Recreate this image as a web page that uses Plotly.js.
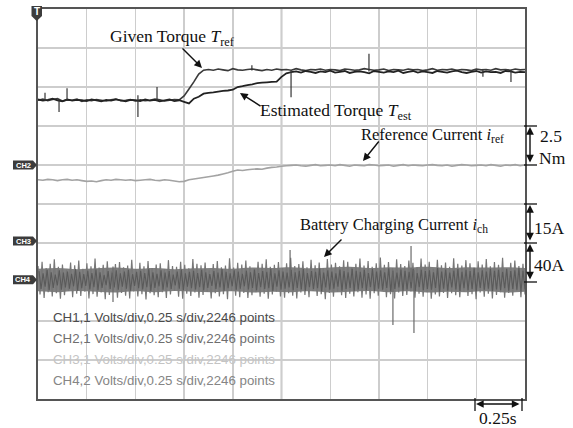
<!DOCTYPE html>
<html>
<head>
<meta charset="utf-8">
<script src="https://cdn.plot.ly/plotly-3.0.1.min.js"></script>
<style>html,body{margin:0;padding:0;background:#fff;}#chart{width:573px;height:428px;}</style>
</head>
<body>
<div id="chart"></div>
<script>
// ---------- DATA (screen divisions, 0.25 s/div, 10 x 10 div) ----------
const sampleStep = 0.025; // seconds between typed samples of CH1/CH2

// CH1 : given torque T_ref (div)
const givenTorque = [
7.66,7.69,7.65,7.68,7.70,7.64,7.67,7.66,7.69,7.63,
7.67,7.65,7.68,7.66,7.64,7.67,7.69,7.65,7.66,7.68,
7.64,7.67,7.65,7.66,7.69,7.67,7.64,7.66,7.68,7.67,
7.77,7.95,8.13,8.33,8.43,
8.45,8.43,8.46,8.44,8.42,8.47,8.44,8.43,8.45,8.46,
8.44,8.42,8.45,8.43,8.46,8.44,8.45,8.43,8.47,8.44,
8.42,8.45,8.44,8.46,8.43,8.45,8.44,8.42,8.46,8.45,
8.43,8.44,8.47,8.45,8.43,8.44,8.46,8.42,8.45,8.44,
8.43,8.46,8.44,8.45,8.42,8.44,8.47,8.43,8.45,8.44,
8.46,8.43,8.45,8.44,8.42,8.46,8.44,8.45,8.43,8.47,
8.44,8.45,8.43,8.46,8.44,8.45];

// CH1 : estimated torque T_est (div)
const estimatedTorque = [
7.68,7.65,7.67,7.70,7.66,7.63,7.68,7.65,7.67,7.66,
7.64,7.68,7.66,7.63,7.67,7.65,7.68,7.66,7.63,7.67,
7.66,7.64,7.68,7.65,7.67,7.63,7.66,7.68,7.64,7.66,
7.62,7.58,7.70,7.75,7.83,7.85,7.86,7.88,7.90,7.91,7.93,8.00,8.02,8.05,8.07,8.10,8.11,8.12,8.13,8.14,8.26,8.35,8.38,
8.40,8.37,8.41,8.39,8.36,8.40,8.38,8.42,8.37,8.39,
8.41,8.36,8.39,8.40,8.38,8.35,8.41,8.39,8.37,8.40,
8.38,8.42,8.36,8.39,8.41,8.37,8.40,8.38,8.36,8.41,
8.39,8.37,8.40,8.42,8.38,8.36,8.39,8.41,8.37,8.40,
8.38,8.39,8.36,8.41,8.40,8.37,8.39,8.38];

// torque glitches: time (s), low, high (div)
const torqueSpikeTime = [0.036,0.108,0.149,0.513,0.611,1.098,1.299,1.699,2.284,2.428];
const torqueSpikeLow  = [7.64,7.36,7.66,7.23,7.65,8.42,7.74,8.40,8.26,8.13];
const torqueSpikeHigh = [7.85,7.68,7.97,7.79,8.00,8.56,8.42,8.85,8.44,8.44];

// CH2 : reference current i_ref (div)
const referenceCurrent = [
5.62,5.61,5.63,5.62,5.60,5.62,5.63,5.61,5.62,5.60,
5.58,5.59,5.57,5.60,5.62,5.61,5.63,5.62,5.61,5.62,
5.60,5.61,5.62,5.63,5.61,5.60,5.62,5.61,5.59,5.57,
5.58,5.62,5.64,5.66,5.68,5.70,5.72,5.74,5.77,5.80,5.84,5.87,5.86,5.88,5.89,5.90,5.89,5.92,5.94,5.95,5.97,
5.98,5.99,6.00,5.98,5.97,5.99,6.01,5.98,5.99,6.00,
5.98,6.01,5.99,5.97,6.00,5.99,5.98,6.01,6.00,5.98,
5.99,6.00,5.97,5.99,6.01,5.98,6.00,5.99,5.98,6.00,
6.01,5.99,5.98,6.00,5.97,5.99,6.01,6.00,5.98,5.99,
6.00,5.98,6.01,5.99,5.97,6.00,5.99,6.01,5.98,6.00];

// CH4 : battery charging current i_ch
// dense core of the ripple band (upper / lower edge, every 0.1 s)
const chargingCoreUpper = [3.34,3.36,3.33,3.35,3.37,3.34,3.36,3.33,3.35,3.36,3.34,3.37,3.36,3.38,3.35,3.37,3.39,3.36,3.38,3.37,3.39,3.36,3.38,3.37,3.38,3.36];
const chargingCoreLower = [2.76,2.74,2.77,2.75,2.73,2.76,2.74,2.77,2.75,2.74,2.76,2.73,2.75,2.74,2.76,2.73,2.75,2.77,2.74,2.76,2.73,2.75,2.74,2.76,2.73,2.75];
// ripple peaks and troughs (div)
const chargingPeaks = [
3.41,3.52,3.36,3.47,3.58,3.39,3.45,3.31,3.50,3.43,
3.55,3.34,3.48,3.40,3.60,3.37,3.44,3.53,3.29,3.46,
3.51,3.38,3.42,3.57,3.33,3.49,3.40,3.54,3.36,3.45,
3.48,3.32,3.56,3.41,3.39,3.52,3.44,3.35,3.59,3.47,
3.43,3.50,3.30,3.46,3.54,3.38,3.42,3.61,3.37,3.49,
3.45,3.55,3.40,3.34,3.52,3.47,3.58,3.39,3.44,3.51,
3.36,3.48,3.62,3.41,3.46,3.53,3.38,3.57,3.43,3.50,
3.35,3.59,3.45,3.49,3.40,3.56,3.52,3.37,3.47,3.60,
3.42,3.54,3.39,3.48,3.63,3.44,3.51,3.36,3.58,3.46,
3.41,3.55,3.49,3.38,3.60,3.45,3.52,3.34,3.57,3.43,
3.50,3.39,3.61,3.47,3.42,3.56,3.48,3.37,3.53,3.45,
3.59,3.40,3.51,3.44,3.62,3.36,3.49,3.55,3.41,3.47];
const chargingTroughs = [
2.68,2.59,2.74,2.63,2.71,2.57,2.66,2.78,2.61,2.70,
2.64,2.75,2.58,2.69,2.62,2.73,2.56,2.67,2.79,2.60,
2.72,2.65,2.58,2.76,2.63,2.69,2.55,2.71,2.66,2.61,
2.74,2.59,2.68,2.77,2.62,2.57,2.70,2.64,2.73,2.60,
2.67,2.75,2.58,2.71,2.63,2.69,2.56,2.78,2.65,2.61,
2.72,2.59,2.66,2.74,2.62,2.70,2.57,2.68,2.76,2.63,
2.60,2.71,2.65,2.58,2.73,2.67,2.61,2.77,2.64,2.69,
2.56,2.72,2.62,2.75,2.66,2.59,2.70,2.63,2.74,2.60,
2.68,2.57,2.71,2.65,2.78,2.61,2.69,2.58,2.73,2.64,
2.67,2.76,2.60,2.70,2.62,2.74,2.57,2.68,2.63,2.72,
2.59,2.71,2.66,2.61,2.75,2.64,2.69,2.56,2.73,2.62,
2.70,2.58,2.67,2.74,2.60,2.72,2.65,2.77,2.61,2.68];
const chargingInnerPeaks = [
3.28,3.22,3.31,3.25,3.19,3.30,3.24,3.27,3.21,3.33,
3.26,3.20,3.29,3.23,3.32,3.25,3.18,3.28,3.24,3.30,
3.22,3.27,3.31,3.20,3.26,3.29,3.23,3.34,3.25,3.21,
3.30,3.24,3.28,3.19,3.27,3.32,3.22,3.26,3.29,3.23,
3.31,3.25,3.20,3.28,3.24,3.33,3.26,3.22,3.30,3.27,
3.21,3.29,3.25,3.32,3.23,3.28,3.26,3.34,3.22,3.30,
3.27,3.24,3.31,3.25,3.29,3.33,3.23,3.28,3.26,3.35,
3.24,3.30,3.27,3.22,3.32,3.28,3.25,3.34,3.29,3.26,
3.31,3.23,3.33,3.27,3.30,3.25,3.35,3.28,3.24,3.32,
3.29,3.26,3.34,3.23,3.31,3.28,3.30,3.25,3.36,3.27,
3.32,3.24,3.29,3.33,3.26,3.31,3.28,3.35,3.25,3.30,
3.27,3.34,3.29,3.31,3.26,3.33,3.28,3.30,3.36,3.29];
const chargingInnerTroughs = [
2.82,2.88,2.79,2.85,2.91,2.80,2.86,2.83,2.89,2.78,
2.84,2.90,2.81,2.87,2.79,2.85,2.92,2.82,2.86,2.80,
2.88,2.83,2.78,2.90,2.84,2.81,2.87,2.77,2.85,2.89,
2.80,2.86,2.82,2.91,2.83,2.79,2.88,2.84,2.81,2.87,
2.79,2.85,2.90,2.82,2.86,2.78,2.84,2.89,2.80,2.83,
2.89,2.81,2.85,2.79,2.87,2.82,2.84,2.77,2.88,2.80,
2.83,2.86,2.79,2.85,2.81,2.78,2.87,2.82,2.84,2.76,
2.86,2.80,2.83,2.88,2.78,2.82,2.85,2.77,2.81,2.84,
2.79,2.87,2.77,2.83,2.80,2.85,2.76,2.82,2.86,2.78,
2.81,2.84,2.77,2.87,2.79,2.82,2.80,2.85,2.75,2.83,
2.78,2.86,2.81,2.77,2.84,2.79,2.82,2.76,2.85,2.80,
2.83,2.77,2.81,2.79,2.84,2.78,2.82,2.80,2.75,2.81];
const chargingSpikeTime = [0.385,1.294,1.822,1.915,1.930];
const chargingSpikeLow  = [2.49,3.00,1.90,3.00,1.69];
const chargingSpikeHigh = [3.40,3.82,3.30,3.92,3.30];

const scopeInfo = [
 "CH1,1 Volts/div,0.25 s/div,2246 points",
 "CH2,1 Volts/div,0.25 s/div,2246 points",
 "CH3,1 Volts/div,0.25 s/div,2246 points",
 "CH4,2 Volts/div,0.25 s/div,2246 points"];
const scopeInfoColors = ["#4a4a4a","#6e6e6e","#c4c4c4","#858585"];
const channelMarks = ["CH2","CH3","CH4"];
const channelLevels = [6.0, 4.05, 3.06];

// ---------- BUILD ----------
const timeOf = (arr, step) => arr.map((_, i) => +(i * step).toFixed(4));

function ripple(peaks, troughs, offset) {
  const t = [], v = [];
  const n = peaks.length * 2;
  for (let k = 0; k < peaks.length; k++) { v.push(peaks[k]); v.push(troughs[k]); }
  for (let i = 0; i < n; i++) t.push((i + offset) * 2.5 / (n - 1 + offset));
  return {t, v};
}
const ripOuter = ripple(chargingPeaks, chargingTroughs, 0);
const ripInner = ripple(chargingInnerPeaks, chargingInnerTroughs, 0.5);

function spikes(t, lo, hi) {
  const x = [], y = [];
  t.forEach((tt, i) => { x.push(tt, tt, null); y.push(lo[i], hi[i], null); });
  return {x, y};
}
const ts = spikes(torqueSpikeTime, torqueSpikeLow, torqueSpikeHigh);
const cs = spikes(chargingSpikeTime, chargingSpikeLow, chargingSpikeHigh);

const traces = [
  {x: timeOf(chargingCoreLower, 0.1), y: chargingCoreLower, mode: 'lines', line: {width: 0, shape: 'spline'}, hoverinfo: 'skip'},
  {x: timeOf(chargingCoreUpper, 0.1), y: chargingCoreUpper, mode: 'lines', line: {width: 0, shape: 'spline'}, fill: 'tonexty', fillcolor: '#808080', hoverinfo: 'skip'},
  {x: ripOuter.t, y: ripOuter.v, mode: 'lines', line: {color: '#777777', width: 1.2, simplify: false}, hoverinfo: 'skip'},
  {x: ripInner.t, y: ripInner.v, mode: 'lines', line: {color: '#5a5a5a', width: 1.1, simplify: false}, hoverinfo: 'skip'},
  {x: cs.x, y: cs.y, mode: 'lines', line: {color: '#6a6a6a', width: 1.2, simplify: false}, hoverinfo: 'skip'},
  {x: timeOf(referenceCurrent, sampleStep), y: referenceCurrent, mode: 'lines', line: {color: '#a3a3a3', width: 1.6, simplify: false}},
  {x: timeOf(givenTorque, sampleStep), y: givenTorque, mode: 'lines', line: {color: '#3a3a3a', width: 1.6, simplify: false}},
  {x: timeOf(estimatedTorque, sampleStep), y: estimatedTorque, mode: 'lines', line: {color: '#222', width: 1.8, simplify: false}},
  {x: ts.x, y: ts.y, mode: 'lines', line: {color: '#333', width: 1.2, simplify: false}}
];

// geometry helpers (pixel -> paper) for outside-the-grid decorations
const L = 38, T = 9, W = 487, H = 390;
const PX = (x) => (x - L) / W;
const PY = (y) => (T + H - y) / H;

const serif = {family: 'Liberation Serif, Times New Roman, serif', size: 17, color: '#111'};
const ann = [];
function label(text, x, y, size, anchor) {
  ann.push({xref: 'paper', yref: 'paper', x: PX(x), y: PY(y), text: text, showarrow: false,
            xanchor: anchor || 'center', yanchor: 'middle', font: Object.assign({}, serif, {size: size || 17})});
}
function arrow(hx, hy, tx, ty, both) {
  ann.push({xref: 'paper', yref: 'paper', x: PX(hx), y: PY(hy), ax: tx - hx, ay: ty - hy, text: '',
            showarrow: true, arrowhead: 2, arrowsize: 1.1, arrowwidth: 1.4, arrowcolor: '#111',
            arrowside: both ? 'end+start' : 'end', standoff: 0, startstandoff: 0});
}
label('Given Torque <i>T</i><sub>ref</sub>', 172, 38, 17.5);
arrow(202, 68, 181, 47);
label('Estimated Torque <i>T</i><sub>est</sub>', 336, 112, 17.5);
arrow(240, 93, 262, 107);
label('Reference Current <i>i</i><sub>ref</sub>', 432, 135, 16.5);
arrow(363, 161, 380, 140);
label('Battery Charging Current <i>i</i><sub>ch</sub>', 394, 225, 16.5);
arrow(324, 257, 343, 238);

label('2.5', 538, 136, 17.5, 'left');
label('Nm', 537, 158, 17.5, 'left');
label('15A', 532, 228, 17.5, 'left');
label('40A', 532, 265, 17.5, 'left');
label('0.25s', 498, 418, 17.5);
arrow(530, 127, 530, 164, true);
arrow(530, 205, 530, 242, true);
arrow(530, 244, 530, 281, true);
arrow(476, 404, 521, 404, true);

scopeInfo.forEach((s, i) => {
  ann.push({xref: 'paper', yref: 'paper', x: PX(51), y: PY(317 + i * 21.3), text: s, showarrow: false,
            xanchor: 'left', yanchor: 'middle',
            font: {family: 'Liberation Sans, Arial, sans-serif', size: 13.3, color: scopeInfoColors[i]}});
});

const shapes = [];
// centre graticule lines (darker)
shapes.push({type: 'line', xref: 'x', yref: 'paper', x0: 1.25, x1: 1.25, y0: 0, y1: 1, layer: 'between', line: {color: '#8c8c8c', width: 1.5}});
shapes.push({type: 'line', xref: 'paper', yref: 'y', x0: 0, x1: 1, y0: 5, y1: 5, layer: 'between', line: {color: '#8c8c8c', width: 1.5}});
// bracket ticks
[126, 165, 204, 243, 282].forEach(y => shapes.push({type: 'line', xref: 'paper', yref: 'paper',
  x0: PX(524), x1: PX(537), y0: PY(y), y1: PY(y), line: {color: '#111', width: 1.3}}));
[475, 522].forEach(x => shapes.push({type: 'line', xref: 'paper', yref: 'paper',
  x0: PX(x), x1: PX(x), y0: PY(398), y1: PY(411), line: {color: '#111', width: 1.3}}));
// trigger marker
shapes.push({type: 'path', xref: 'paper', yref: 'paper',
  path: `M ${PX(31.5)} ${PY(6)} L ${PX(42)} ${PY(6)} L ${PX(42)} ${PY(16)} L ${PX(36.7)} ${PY(21)} L ${PX(31.5)} ${PY(16)} Z`,
  fillcolor: '#3c3c3c', line: {width: 0}});
ann.push({xref: 'paper', yref: 'paper', x: PX(36.7), y: PY(12), text: '<b>T</b>', showarrow: false,
  font: {family: 'Liberation Sans, Arial, sans-serif', size: 10, color: '#fff'}, xanchor: 'center', yanchor: 'middle'});
// channel markers
channelMarks.forEach((m, i) => {
  const yc = T + H - channelLevels[i] * H / 10;
  shapes.push({type: 'path', xref: 'paper', yref: 'paper',
    path: `M ${PX(13)} ${PY(yc - 4.5)} L ${PX(33)} ${PY(yc - 4.5)} L ${PX(37)} ${PY(yc)} L ${PX(33)} ${PY(yc + 4.5)} L ${PX(13)} ${PY(yc + 4.5)} Z`,
    fillcolor: '#3c3c3c', line: {width: 0}});
  ann.push({xref: 'paper', yref: 'paper', x: PX(23), y: PY(yc), text: '<b>' + m + '</b>', showarrow: false,
    font: {family: 'Liberation Sans, Arial, sans-serif', size: 7.5, color: '#fff'}, xanchor: 'center', yanchor: 'middle'});
});

const layout = {
  width: 573, height: 428,
  margin: {l: L, r: 573 - L - W, t: T, b: 428 - T - H, pad: 0},
  paper_bgcolor: '#fff', plot_bgcolor: '#fff',
  showlegend: false,
  xaxis: {range: [0, 2.5], dtick: 0.25, tick0: 0, showticklabels: false, ticks: '', zeroline: false,
          showgrid: true, gridcolor: '#cdcdcd', gridwidth: 1.4,
          showline: true, mirror: true, linecolor: '#555', linewidth: 1.8, fixedrange: true},
  yaxis: {range: [0, 10], dtick: 1, tick0: 0, showticklabels: false, ticks: '', zeroline: false,
          showgrid: true, gridcolor: '#cdcdcd', gridwidth: 1.4,
          showline: true, mirror: true, linecolor: '#555', linewidth: 1.8, fixedrange: true},
  annotations: ann,
  shapes: shapes
};
Plotly.newPlot('chart', traces, layout, {staticPlot: true, displayModeBar: false});
</script>
</body>
</html>
